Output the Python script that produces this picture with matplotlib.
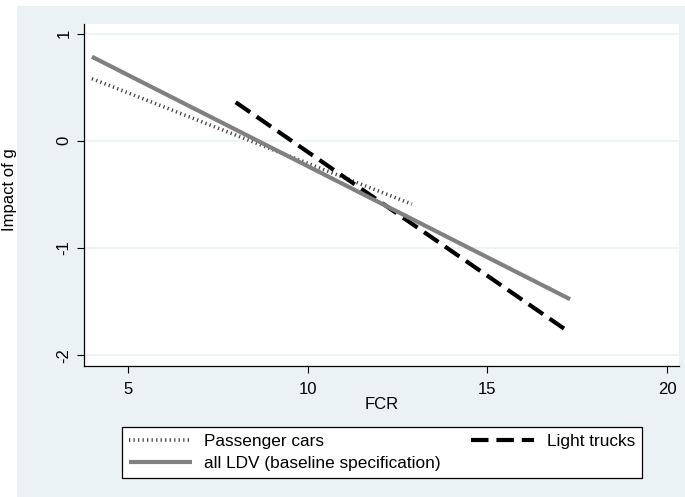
import matplotlib
matplotlib.use("Agg")
import matplotlib.pyplot as plt
from matplotlib.patches import Rectangle

plt.rcParams['font.family'] = ['Liberation Sans', 'DejaVu Sans']

# fitted lines (endpoints)
pc_x = [4.0, 12.9]
pc_y = [0.58, -0.59]
lt_x = [8.0, 17.3]
lt_y = [0.36, -1.79]
ldv_x = [4.0, 17.3]
ldv_y = [0.785, -1.477]

x_ticks = [5, 10, 15, 20]
y_ticks = [1, 0, -1, -2]
y_ticklabels = ["1", "0", "-1", "-2"]

BG = "#EAF2F3"

fig = plt.figure(figsize=(6.85, 4.97), dpi=100)
fig.patch.set_facecolor("white")
fig.patches.append(Rectangle((17 / 685, 0), 1 - 17 / 685, 1 - 6 / 497,
                             transform=fig.transFigure, facecolor=BG,
                             edgecolor="none", zorder=-10))

ax = fig.add_axes([84 / 685, 1 - 366 / 497, (679 - 84) / 685, (366 - 24) / 497])
ax.set_facecolor("white")

pc_line, = ax.plot(pc_x, pc_y, color="#444444", lw=2.6,
                   linestyle=(0, (0.35, 0.9)), dash_capstyle="butt",
                   label="Passenger cars", zorder=3)
lt_line, = ax.plot(lt_x, lt_y, color="black", lw=3.0,
                   linestyle=(0, (4.2, 1.9)), dash_capstyle="butt",
                   label="Light trucks", zorder=4)
ldv_line, = ax.plot(ldv_x, ldv_y, color="#808080", lw=3.0,
                    solid_capstyle="butt",
                    label="all LDV (baseline specification)", zorder=5)

ax.set_xlim(3.78, 20.33)
ax.set_ylim(-2.1, 1.09)
ax.set_xticks(x_ticks)
ax.set_yticks(y_ticks)
ax.set_yticklabels(y_ticklabels, rotation=90, va="center")
ax.tick_params(axis="both", direction="out", length=5, width=0.8,
               labelsize=12, colors="black")
ax.tick_params(axis="x", pad=6.5)
ax.tick_params(axis="y", pad=4)
ax.yaxis.grid(True, color=BG, lw=1.2, zorder=0)
ax.set_axisbelow(True)

for side in ["top", "right"]:
    ax.spines[side].set_visible(False)
for side in ["left", "bottom"]:
    ax.spines[side].set_linewidth(0.9)
    ax.spines[side].set_color("black")

ax.set_xlabel("FCR", fontsize=12, labelpad=0)

fig.text(10 / 685, 1 - 190 / 497, "Impact of g", rotation=90,
         ha="center", va="center", fontsize=12)

leg = fig.legend(handles=[pc_line, ldv_line, lt_line], ncol=2,
                 loc="lower left",
                 bbox_to_anchor=(122 / 685, 1 - 478 / 497,
                                 (642 - 122) / 685, (478 - 422) / 497),
                 mode="expand", fontsize=12.4, frameon=True, fancybox=False,
                 edgecolor="black", facecolor="white", framealpha=1,
                 handlelength=3.66, handletextpad=0.7, labelspacing=0.4,
                 borderpad=0.42, borderaxespad=0)
leg.get_frame().set_linewidth(0.9)

fig.savefig("out.png", dpi=100, facecolor=fig.get_facecolor())
